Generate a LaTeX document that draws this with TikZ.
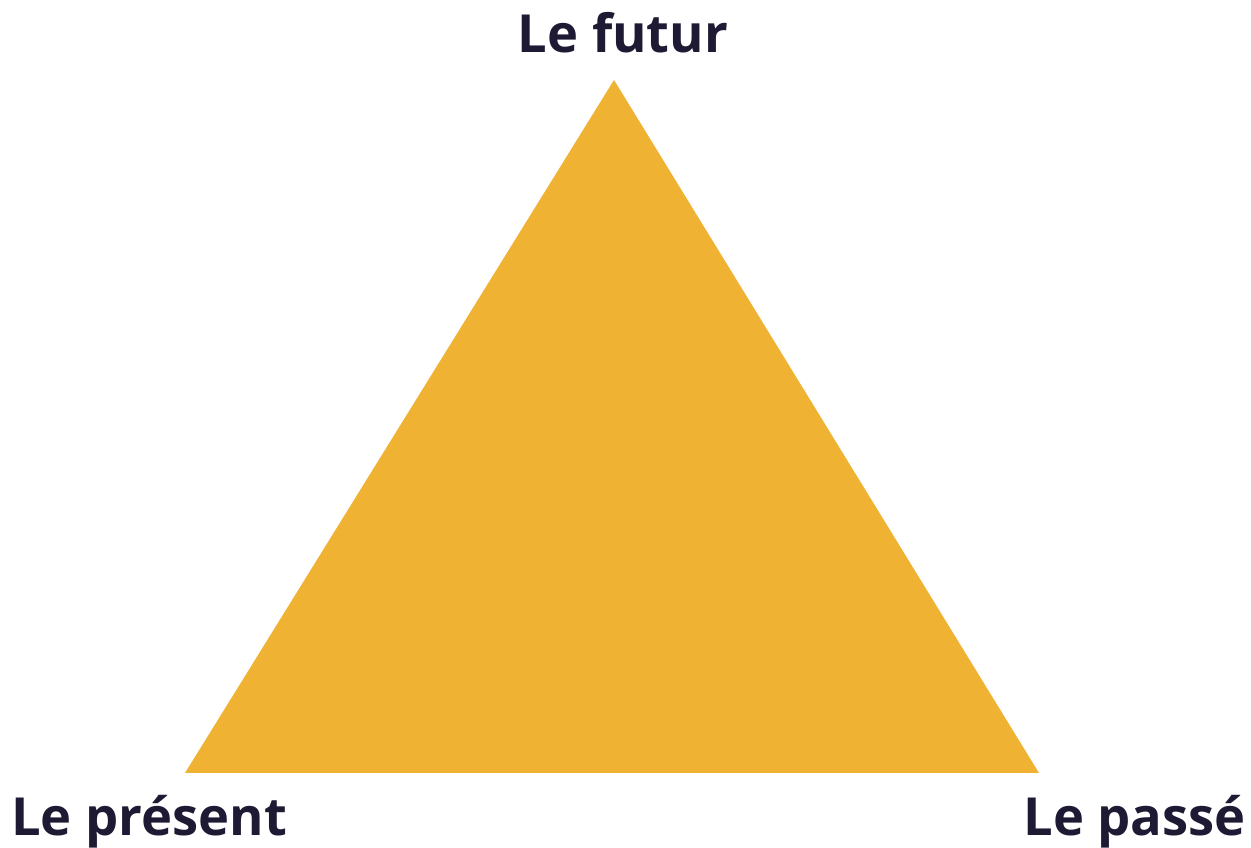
\documentclass[tikz,border=0pt]{standalone}
\usepackage{fontspec}
\setmainfont{Open Sans}[BoldFont={* Bold}]
\definecolor{tri}{HTML}{EFB233}
\definecolor{ink}{HTML}{1E1A34}
\begin{document}
\begin{tikzpicture}[x=1pt,y=1pt,
  lbl/.style={inner sep=0pt, text=ink, font=\fontsize{52.5}{58}\selectfont\bfseries}]
  \useasboundingbox (0,0) rectangle (1251,848);
  % triangle vertices
  \coordinate (top) at (614,768);
  \coordinate (bl) at (185,75);
  \coordinate (br) at (1039,75);
  \fill[tri] (top) -- (bl) -- (br) -- cycle;
  % corner labels
  \node[lbl, anchor=base] (futur) at (623,795) {Le futur};
  \node[lbl, anchor=base west] (present) at (11,12) {Le présent};
  \node[lbl, anchor=base east] (passe) at (1246,12) {Le passé};
\end{tikzpicture}
\end{document}
